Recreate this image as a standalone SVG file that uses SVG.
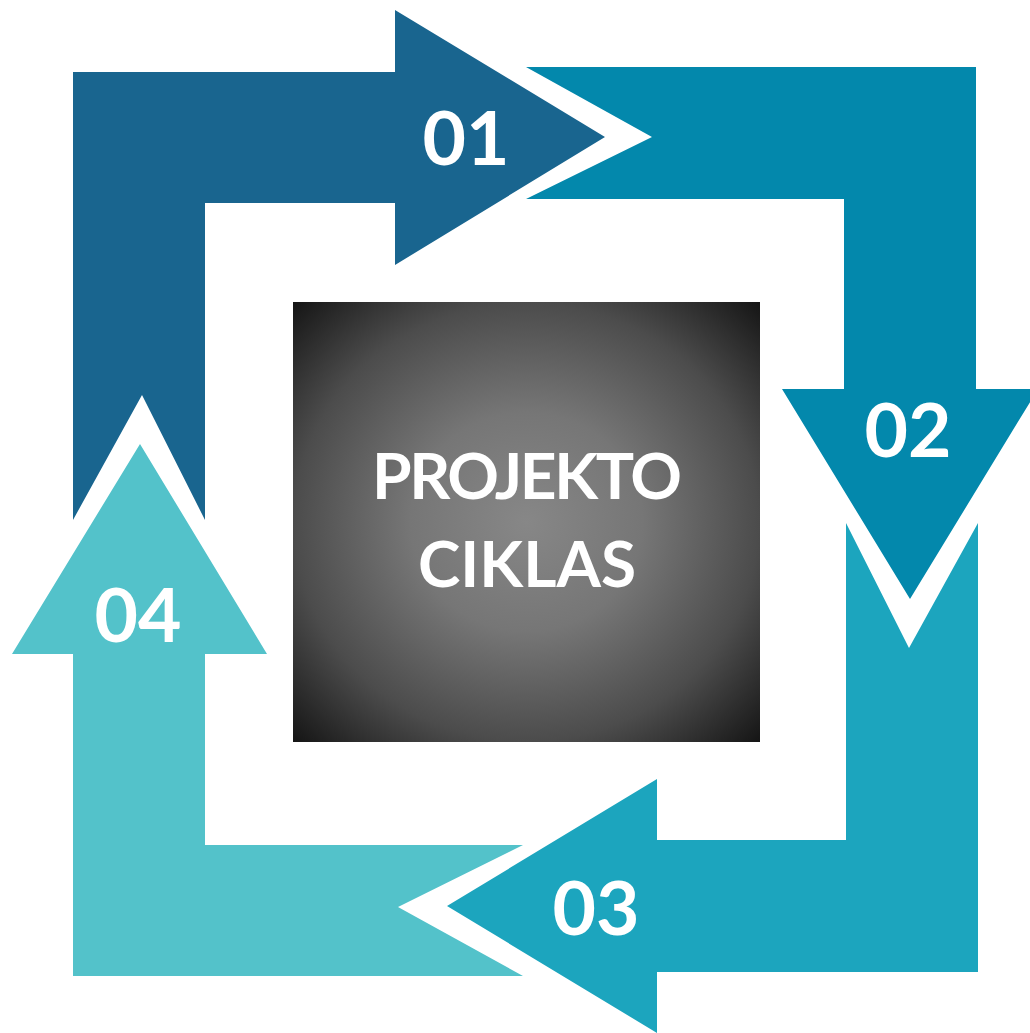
<svg xmlns="http://www.w3.org/2000/svg" width="1030" height="1033" viewBox="0 0 1030 1033">
<style>
.num{font-family:Lato,"Open Sans","Liberation Sans",sans-serif;font-weight:700;font-size:75px;fill:#fff;text-anchor:middle}
.title{font-family:Lato,"Open Sans","Liberation Sans",sans-serif;font-weight:700;font-size:64px;fill:#fff;text-anchor:middle}
</style>
<defs>
<radialGradient id="boxg" cx="50%" cy="50%" r="71%">
<stop offset="0" stop-color="#878787"/>
<stop offset="0.35" stop-color="#767676"/>
<stop offset="0.7" stop-color="#4c4c4c"/>
<stop offset="1" stop-color="#141414"/>
</radialGradient>
</defs>
<rect width="1030" height="1033" fill="#fff"/>
<g id="connectors">
<g id="arrow01">
<polygon fill="#19658F" points="73,520 73,72 395,72 395,10 605,137 395,265 395,203 205,203 205,520 142,395"/>
<text class="num" x="466" y="165">01</text>
</g>
<g id="arrow02">
<polygon fill="#0388AC" points="526,67 976,67 976,389 1038,389 910,599 782,389 844,389 844,199 526,199 652,137"/>
<text class="num" x="908" y="457">02</text>
</g>
<g id="arrow03">
<polygon fill="#1CA5BE" points="846,523 909,648 978,523 978,972 657,972 657,1033 447,906 657,779 657,840 846,840"/>
<text class="num" x="596" y="935">03</text>
</g>
<g id="arrow04">
<polygon fill="#53C2CA" points="523,845 205,845 205,654 267,654 140,444 12,654 73,654 73,976 523,976 398,907"/>
<text class="num" x="138" y="642">04</text>
</g>
</g>
<g id="center">
<rect x="293" y="302" width="467" height="440" fill="url(#boxg)"/>
<text class="title" x="527" y="499" textLength="310" lengthAdjust="spacing">PROJEKTO</text>
<text class="title" x="527" y="587">CIKLAS</text>
</g>
</svg>
